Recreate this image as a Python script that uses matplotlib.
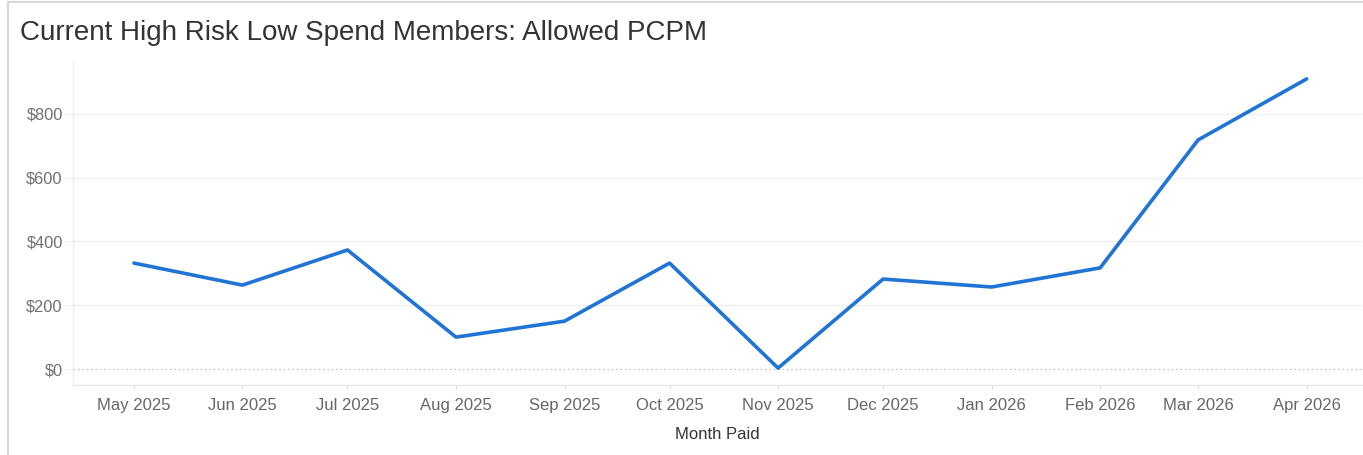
import datetime as dt
import matplotlib
matplotlib.use("Agg")
import matplotlib.pyplot as plt
from matplotlib.lines import Line2D

plt.rcParams['font.family'] = ['Liberation Sans', 'DejaVu Sans']

# Data
months = ["2025-05", "2025-06", "2025-07", "2025-08", "2025-09", "2025-10",
          "2025-11", "2025-12", "2026-01", "2026-02", "2026-03", "2026-04"]
month_labels = ["May 2025", "Jun 2025", "Jul 2025", "Aug 2025", "Sep 2025", "Oct 2025",
                "Nov 2025", "Dec 2025", "Jan 2026", "Feb 2026", "Mar 2026", "Apr 2026"]
pcpm = [332, 263, 373, 100, 150, 332, 3, 282, 257, 317, 718, 909]
y_ticks = [0, 200, 400, 600, 800]

dates = [dt.datetime.strptime(m, "%Y-%m") for m in months]

fig = plt.figure(figsize=(13.63, 4.55), dpi=100)
ax = fig.add_axes([73 / 1363, 1 - 385 / 455, 1289 / 1363, 323 / 455])

ax.plot(dates, pcpm, color="#1f74d6", lw=2.6, solid_joinstyle="round",
        solid_capstyle="round", zorder=3)

# zero line and gridlines
ax.axhline(0, color="#c8c8c8", lw=0.9, ls=(0, (1.5, 2)), zorder=1)
for v in y_ticks[1:]:
    ax.axhline(v, color="#efefef", lw=0.9, zorder=0)

ax.set_ylim(-50, 962)
ax.set_xlim(dates[0] - dt.timedelta(days=17.4), dates[-1] + dt.timedelta(days=15.8))

ax.set_yticks(y_ticks)
ax.set_yticklabels([f"${v}" for v in y_ticks])
ax.set_xticks(dates)
ax.set_xticklabels(month_labels)

ax.tick_params(axis="y", length=5.8, color="#efefef", labelcolor="#707070",
               labelsize=11.8, pad=1.5)
ax.tick_params(axis="x", length=3.6, color="#e0e0e0", labelcolor="#666666",
               labelsize=12, pad=5.5)

for s in ["top", "right"]:
    ax.spines[s].set_visible(False)
ax.spines["left"].set_color("#ececec")
ax.spines["bottom"].set_color("#e4e4e4")
ax.spines["left"].set_linewidth(0.9)
ax.spines["bottom"].set_linewidth(0.9)

ax.set_xlabel("Month Paid", fontsize=12, color="#333333", labelpad=10.5)

fig.text(20 / 1363, 1 - 33 / 455, "Current High Risk Low Spend Members: Allowed PCPM",
         fontsize=20, color="#333333", va="center", ha="left")

# card border
fig.add_artist(Line2D([8 / 1363, 8 / 1363], [0, 1 - 2 / 455], transform=fig.transFigure,
                      color="#d8d8d8", lw=1.5))
fig.add_artist(Line2D([8 / 1363, 1], [1 - 2 / 455, 1 - 2 / 455], transform=fig.transFigure,
                      color="#d8d8d8", lw=1.5))

fig.savefig("out.png", dpi=100)
